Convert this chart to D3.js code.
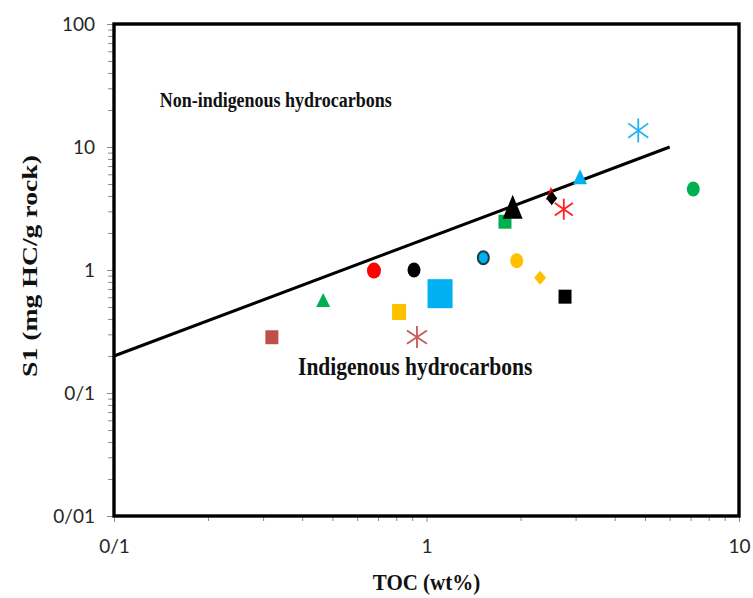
<!DOCTYPE html>
<html>
<head>
<meta charset="utf-8">
<script src="https://cdn.jsdelivr.net/npm/d3@7"></script>
<style>
  html, body { margin: 0; padding: 0; background: #fff; }
  svg { display: block; }
</style>
</head>
<body>
<svg id="chart" width="753" height="598"></svg>
<script>
// TOC (wt%) and S1 (mg HC/g rock) for each sample
const sampleToc = [0.32, 0.467, 0.679, 0.912, 0.817, 0.932, 1.105, 1.52, 1.944, 2.31, 2.775, 1.783, 1.887, 2.503, 2.516, 2.75, 3.10, 4.76, 7.14];
const sampleS1  = [0.284, 0.57, 0.99, 1.0, 0.456, 0.285, 0.642, 1.26, 1.19, 0.866, 0.607, 2.47, 3.27, 4.20, 3.83, 3.12, 5.73, 13.6, 4.55];

// Boundary line between indigenous and non-indigenous hydrocarbons
const boundaryToc = [0.1, 6];
const boundaryS1  = [0.2, 10];

// Axis ticks and their labels
const xTicks = [0.1, 1, 10];
const xTickLabels = ["0/1", "1", "10"];
const yTicks = [0.01, 0.1, 1, 10, 100];
const yTickLabels = ["0/01", "0/1", "1", "10", "100"];

const xTitle = "TOC (wt%)";
const yTitle = "S1 (mg HC/g rock)";
const upperLabel = "Non-indigenous hydrocarbons";
const lowerLabel = "Indigenous hydrocarbons";

// Marker appearance for each sample, in the same order as the values
const markerStyles = [
  { shape: "square",   fill: "#c0504d", w: 13, h: 14 },
  { shape: "triangle", fill: "#00b050", w: 14, h: 14 },
  { shape: "circle",   fill: "#ff0000", w: 14, h: 16 },
  { shape: "circle",   fill: "#000000", w: 13, h: 15 },
  { shape: "square",   fill: "#ffc000", w: 14, h: 16 },
  { shape: "asterisk", fill: "#c8595a", w: 20, h: 22 },
  { shape: "square",   fill: "#00b0f0", w: 25, h: 29 },
  { shape: "circle",   fill: "#00b0f0", w: 11, h: 13, stroke: "#1f3a4a" },
  { shape: "circle",   fill: "#ffc000", w: 13, h: 15 },
  { shape: "diamond",  fill: "#ffc000", w: 12, h: 14 },
  { shape: "square",   fill: "#000000", w: 13, h: 14 },
  { shape: "square",   fill: "#00b050", w: 13, h: 14 },
  { shape: "triangle", fill: "#000000", w: 20, h: 24 },
  { shape: "triangle", fill: "#ff0000", w: 10, h: 13 },
  { shape: "diamond",  fill: "#000000", w: 11, h: 14 },
  { shape: "asterisk", fill: "#ff2020", w: 18, h: 21 },
  { shape: "triangle", fill: "#00b0f0", w: 14, h: 15 },
  { shape: "asterisk", fill: "#20b4f0", w: 20, h: 24 },
  { shape: "circle",   fill: "#00b050", w: 13, h: 15 }
];

const svg = d3.select("#chart");
const plot = { left: 114, right: 739, top: 24, bottom: 516 };

const x = d3.scaleLog().domain([0.1, 10]).range([plot.left, plot.right]);
const y = d3.scaleLog().domain([0.01, 100]).range([plot.bottom, plot.top]);

// Minor ticks (2..9 within each decade)
function minorTicks(lo, hi) {
  const out = [];
  for (let d = lo; d < hi; d *= 10) {
    for (let k = 2; k <= 9; k++) out.push(d * k);
  }
  return out;
}

const tickFont = "Lato, 'Open Sans', sans-serif";
const titleFont = "'Liberation Serif', 'Times New Roman', serif";

// X axis: ticks pointing down below the frame
const xAxis = svg.append("g")
  .attr("transform", `translate(0,${plot.bottom})`)
  .call(d3.axisBottom(x).tickValues(minorTicks(0.1, 10)).tickSize(5).tickFormat(""));
xAxis.select(".domain").remove();
xAxis.selectAll("line").attr("stroke", "#8a8a8a").attr("stroke-width", 1);

const xMajor = svg.append("g")
  .attr("transform", `translate(0,${plot.bottom})`)
  .call(d3.axisBottom(x).tickValues(xTicks).tickSize(6)
    .tickFormat((d, i) => xTickLabels[i]).tickPadding(18));
xMajor.select(".domain").remove();
xMajor.selectAll("line").attr("stroke", "#8a8a8a");
xMajor.selectAll("text")
  .attr("font-family", tickFont)
  .attr("font-size", 19)
  .attr("fill", "#262626");

// Y axis: ticks pointing left of the frame
const yAxis = svg.append("g")
  .attr("transform", `translate(${plot.left},0)`)
  .call(d3.axisLeft(y).tickValues(minorTicks(0.01, 100)).tickSize(6).tickFormat(""));
yAxis.select(".domain").remove();
yAxis.selectAll("line").attr("stroke", "#8a8a8a").attr("stroke-width", 1);

const yMajor = svg.append("g")
  .attr("transform", `translate(${plot.left},0)`)
  .call(d3.axisLeft(y).tickValues(yTicks).tickSize(7)
    .tickFormat((d, i) => yTickLabels[i]).tickPadding(12));
yMajor.select(".domain").remove();
yMajor.selectAll("line").attr("stroke", "#8a8a8a");
yMajor.selectAll("text")
  .attr("font-family", tickFont)
  .attr("font-size", 19)
  .attr("fill", "#262626");

// Plot frame
svg.append("rect")
  .attr("x", plot.left).attr("y", plot.top)
  .attr("width", plot.right - plot.left).attr("height", plot.bottom - plot.top)
  .attr("fill", "none").attr("stroke", "#000").attr("stroke-width", 3.4);

// Boundary line
const line = d3.line().x(d => x(d[0])).y(d => y(d[1]));
svg.append("path")
  .datum(boundaryToc.map((t, i) => [t, boundaryS1[i]]))
  .attr("d", line)
  .attr("fill", "none").attr("stroke", "#000").attr("stroke-width", 3);

// Marker outlines, sized to width w and height h, centred on (0,0)
function markerPath(s) {
  const hw = s.w / 2, hh = s.h / 2;
  switch (s.shape) {
    case "square":
      return `M${-hw},${-hh}H${hw}V${hh}H${-hw}Z`;
    case "triangle":
      return `M0,${-hh}L${hw},${hh}L${-hw},${hh}Z`;
    case "diamond":
      return `M0,${-hh}L${hw},0L0,${hh}L${-hw},0Z`;
    case "asterisk":
      return `M0,${-hh}V${hh}M${-hw},${-hh * 0.6}L${hw},${hh * 0.6}M${-hw},${hh * 0.6}L${hw},${-hh * 0.6}`;
    default:
      return null;
  }
}

const points = sampleToc.map((t, i) => ({ toc: t, s1: sampleS1[i], style: markerStyles[i] }));

const g = svg.append("g");
points.forEach(p => {
  const s = p.style;
  const cx = x(p.toc), cy = y(p.s1);
  if (s.shape === "circle") {
    g.append("ellipse")
      .attr("cx", cx).attr("cy", cy)
      .attr("rx", s.w / 2).attr("ry", s.h / 2)
      .attr("fill", s.fill)
      .attr("stroke", s.stroke || "none")
      .attr("stroke-width", s.stroke ? 2 : 0);
  } else if (s.shape === "asterisk") {
    g.append("path")
      .attr("transform", `translate(${cx},${cy})`)
      .attr("d", markerPath(s))
      .attr("fill", "none").attr("stroke", s.fill).attr("stroke-width", 1.8);
  } else {
    g.append("path")
      .attr("transform", `translate(${cx},${cy})`)
      .attr("d", markerPath(s))
      .attr("fill", s.fill);
  }
});

// Text drawn slightly taller than wide, like the rest of the figure
function label(tx, ty, str, size, opts = {}) {
  const stretch = opts.stretch || 1.13;
  const t = svg.append("text")
    .attr("transform", `translate(${tx},${ty}) ${opts.rotate ? `rotate(-90) scale(${stretch},1)` : `scale(1,${stretch})`}`)
    .attr("font-family", titleFont)
    .attr("font-weight", "bold").attr("font-size", size)
    .attr("fill", "#111")
    .text(str);
  if (opts.anchor) t.attr("text-anchor", opts.anchor);
  return t;
}

// Region labels
label(x(0.14), y(21), upperLabel, 18);
label(x(0.388), y(0.14), lowerLabel, 21.5);

// Axis titles
label(x(1), 590, xTitle, 21, { anchor: "middle" });
label(37, 266, yTitle, 22, { anchor: "middle", rotate: true, stretch: 1.26 });
</script>
</body>
</html>
